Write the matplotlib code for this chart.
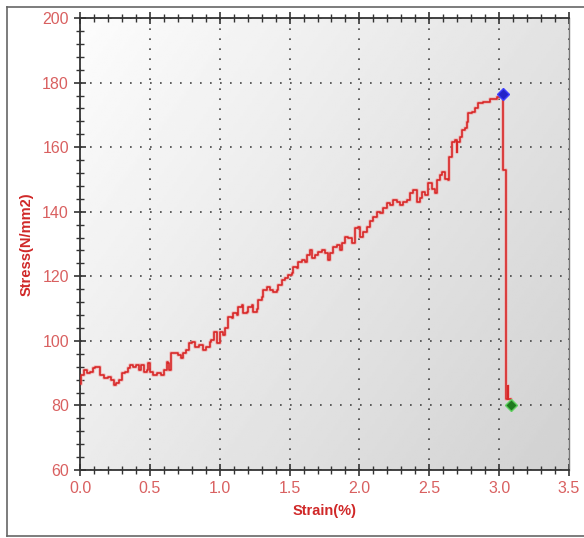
import numpy as np
import matplotlib
matplotlib.use("Agg")
import matplotlib.pyplot as plt
from matplotlib.ticker import MultipleLocator
from matplotlib.lines import Line2D

plt.rcParams['font.family'] = ['Liberation Sans Narrow', 'Liberation Sans', 'DejaVu Sans']

# strain (%) / stress (N/mm2)
strain = [0.00, 0.01, 0.03, 0.05, 0.07, 0.09, 0.11, 0.14, 0.17, 0.20, 0.22, 0.24, 0.26, 0.28,
          0.30, 0.32, 0.34, 0.36, 0.38, 0.40, 0.42, 0.44, 0.46, 0.48, 0.49, 0.50, 0.52, 0.55,
          0.58, 0.60, 0.62, 0.63, 0.64, 0.65, 0.68, 0.70, 0.72, 0.74, 0.76, 0.78, 0.80, 0.82,
          0.85, 0.88, 0.90, 0.93, 0.94, 0.96, 0.98, 1.00, 1.02, 1.04,
          1.062, 1.086, 1.098, 1.122, 1.133, 1.157, 1.169, 1.193, 1.205, 1.229, 1.241, 1.265,
          1.277, 1.300, 1.312, 1.336, 1.360, 1.384, 1.408, 1.420, 1.444, 1.467, 1.491, 1.515,
          1.527, 1.551, 1.563, 1.587, 1.611, 1.622, 1.646, 1.658, 1.682, 1.706, 1.730, 1.754,
          1.778, 1.790, 1.814, 1.837, 1.861, 1.873, 1.897, 1.921, 1.945, 1.969, 1.992, 2.004,
          2.028, 2.052, 2.076, 2.100, 2.124, 2.148, 2.171, 2.195, 2.219, 2.243, 2.267, 2.291,
          2.315, 2.338, 2.362, 2.386, 2.410, 2.434, 2.446, 2.470, 2.494, 2.517, 2.541, 2.553,
          2.577, 2.589, 2.613, 2.637, 2.644, 2.661, 2.685, 2.696, 2.701, 2.720, 2.732, 2.756,
          2.768, 2.780, 2.804, 2.828, 2.851, 2.887, 2.935, 2.983, 3.030,
          3.031, 3.045, 3.046, 3.052, 3.060, 3.066, 3.083]
stress = [86.5, 89.5, 91.0, 90.0, 90.5, 91.5, 92.0, 89.5, 88.5, 88.8, 87.9, 86.3, 87.0, 88.0,
          90.0, 90.5, 91.5, 92.5, 92.0, 92.5, 91.0, 92.5, 90.5, 91.0, 93.0, 90.5, 89.5, 90.0,
          89.5, 91.0, 93.5, 93.2, 91.0, 96.1, 96.1, 95.6, 94.6, 96.1, 97.2, 99.3, 99.5, 98.2,
          98.8, 97.2, 98.2, 99.8, 100.3, 102.9, 99.3, 102.9, 101.8, 104.0,
          107.5, 107.0, 108.5, 108.0, 110.6, 111.1, 108.5, 109.0, 110.6, 111.1, 109.0, 110.0,
          112.7, 113.7, 115.8, 116.8, 115.8, 115.2, 115.8, 117.3, 118.9, 119.4, 120.4, 120.9,
          123.0, 122.5, 124.5, 125.1, 124.5, 126.6, 128.2, 125.6, 126.6, 127.6, 128.2, 127.1,
          125.1, 127.1, 129.2, 129.7, 128.2, 130.2, 132.3, 131.8, 130.2, 134.9, 135.4, 132.3,
          133.8, 135.4, 137.0, 138.5, 140.0, 139.5, 141.1, 142.6, 142.1, 143.6, 143.1, 142.1,
          143.1, 143.6, 145.7, 146.7, 143.1, 144.2, 146.2, 145.2, 148.8, 147.2, 145.7, 149.8,
          151.4, 152.4, 150.3, 149.8, 157.1, 161.7, 162.2, 158.6, 161.7, 163.3, 165.3, 165.8,
          167.9, 170.5, 171.0, 172.0, 173.6, 174.1, 174.8, 175.6, 176.4,
          153.0, 153.0, 83.0, 82.0, 86.0, 82.0, 80.0]

peak = (3.03, 176.4)
brk = (3.083, 80.0)

fig = plt.figure(figsize=(5.84, 5.38), dpi=100)
ax = fig.add_axes([0.137, 0.1264, 0.8373, 0.840])

# gradient background
gx, gy = np.meshgrid(np.linspace(0, 1, 200), np.linspace(0, 1, 200))
grad = 0.99 - 0.17 * (gx * 0.6 + gy * 0.4)
ax.imshow(grad, cmap='gray', vmin=0, vmax=1, extent=[0, 3.5, 60, 200],
          aspect='auto', origin='upper', zorder=0)

ax.plot(strain, stress, color='#f0a0a0', lw=2.6, alpha=0.6, zorder=2, drawstyle='steps-post')
ax.plot(strain, stress, color='#d82828', lw=1.2, zorder=3, drawstyle='steps-post')
ax.plot(*peak, marker='D', ms=6.5, color='#2323c8', mec='#4040ff', zorder=4)
ax.plot(*brk, marker='D', ms=6.5, color='#1f7a1f', mec='#60d060', zorder=4)

ax.set_xlim(0, 3.5)
ax.set_ylim(60, 200)
ax.xaxis.set_major_locator(MultipleLocator(0.5))
ax.xaxis.set_minor_locator(MultipleLocator(0.1))
ax.yaxis.set_major_locator(MultipleLocator(20))
ax.yaxis.set_minor_locator(MultipleLocator(4))
ax.xaxis.set_major_formatter(plt.FormatStrFormatter('%.1f'))

ax.tick_params(which='both', direction='inout', top=True, right=False,
               colors='#333333', labelcolor='#d96060', labelsize=11.5)
ax.tick_params(which='major', length=9, width=1.2)
ax.tick_params(which='minor', length=6, width=1.0)
ax.tick_params(axis='x', which='both', labeltop=False)

ax.grid(True, which='major', color='#444444', linestyle=(0, (1, 5)), lw=1.2, zorder=1)

for s in ['left', 'bottom', 'top']:
    ax.spines[s].set_color('#333333')
    ax.spines[s].set_linewidth(1.3)
ax.spines['right'].set_color('#777777')
ax.spines['right'].set_linewidth(1.0)

ax.set_xlabel('Strain(%)', color='#d02828', fontweight='bold', fontsize=10.5, labelpad=6)
ax.set_ylabel('Stress(N/mm2)', color='#d02828', fontweight='bold', fontsize=10.5, labelpad=6)

# outer frame
fr = '#666666'
fig.add_artist(Line2D([7 / 584, 7 / 584], [2 / 538, 531 / 538], transform=fig.transFigure, color=fr, lw=1.2))
fig.add_artist(Line2D([7 / 584, 1], [531 / 538, 531 / 538], transform=fig.transFigure, color=fr, lw=1.2))
fig.add_artist(Line2D([7 / 584, 1], [2 / 538, 2 / 538], transform=fig.transFigure, color=fr, lw=1.2))

fig.savefig('out.png', dpi=100)
